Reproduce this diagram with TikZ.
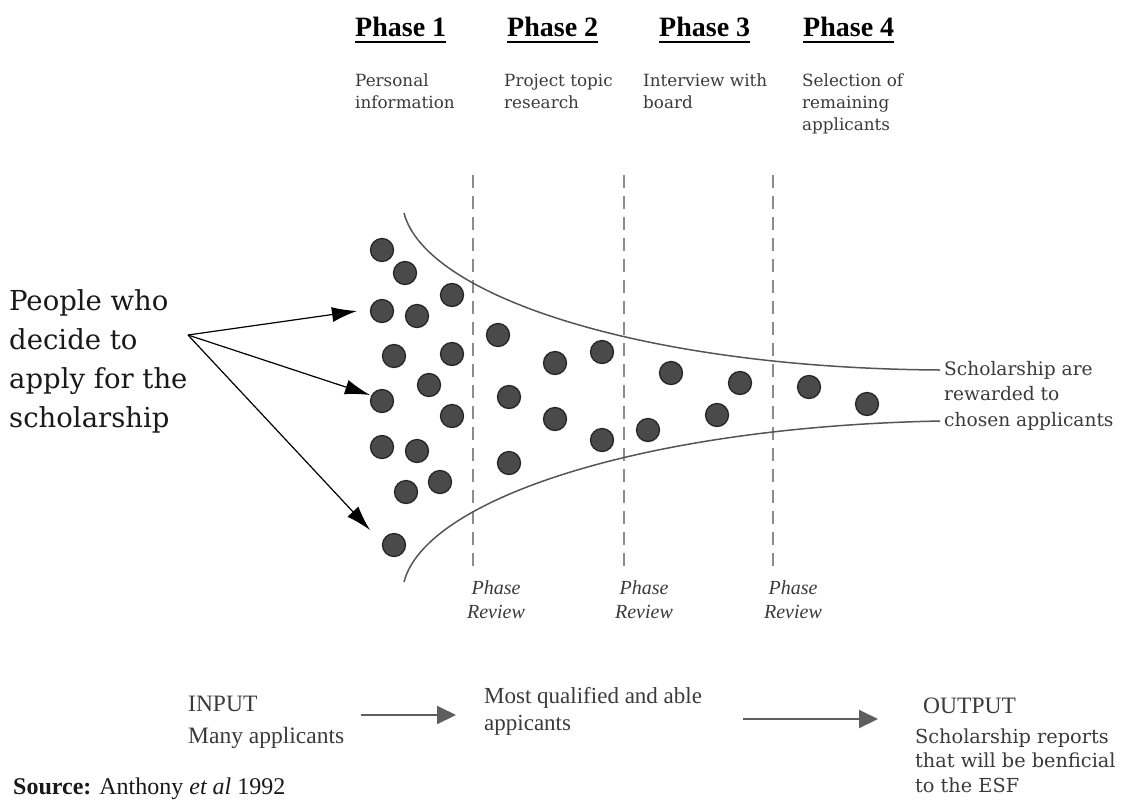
\documentclass[tikz,border=0pt]{standalone}
\usepackage{fontspec}
\usetikzlibrary{arrows.meta}
\newfontfamily\dvs{DejaVu Serif}
\newfontfamily\lib{Liberation Serif}
\definecolor{dotfill}{HTML}{4A4A4A}
\definecolor{dotline}{HTML}{262626}
\definecolor{txtgray}{HTML}{3A3A3A}
\definecolor{curvegray}{HTML}{555555}
\definecolor{dashgray}{HTML}{8C8C8C}
\definecolor{arrgray}{HTML}{5E5E5E}
\tikzset{
  dot/.style={circle, fill=dotfill, draw=dotline, line width=1.3pt, minimum size=23pt, inner sep=0pt},
  hdr/.style={inner sep=0pt, anchor=base west, font={\lib\bfseries\fontsize{28}{30}\selectfont}},
  sub/.style={inner sep=0pt, anchor=base west, align=left, text=txtgray, font={\dvs\fontsize{16.8}{22}\selectfont}},
  review/.style={inner sep=0pt, anchor=base, align=center, text=txtgray, font={\lib\itshape\fontsize{20}{24}\selectfont}},
  bottomtxt/.style={inner sep=0pt, anchor=base west, align=left, text=txtgray, font={\lib\fontsize{23.5}{32}\selectfont}},
  funnel/.style={draw=curvegray, line width=1.5pt},
  phaseline/.style={draw=dashgray, line width=1.5pt, dash pattern=on 13pt off 8pt},
  pointer/.style={draw=black, line width=1.2pt, -{Latex[length=25pt, width=15pt]}},
  flow/.style={draw=arrgray, line width=2pt, -{Triangle[length=19pt, width=18pt]}}
}
\begin{document}
\begin{tikzpicture}[x=1pt, y=-1pt]
\useasboundingbox (0,0) rectangle (1121,801);

% headers
\foreach \n/\x/\t in {1/355/Phase 1, 2/507/Phase 2, 3/659/Phase 3, 4/803/Phase 4}{
  \node[hdr] (h\n) at (\x,36) {\t};
  \draw[line width=2.4pt] ([yshift=-6pt]h\n.base west) -- ([yshift=-6pt]h\n.base east);
}
% multi-line nodes are placed by the baseline of their last line
\node[sub] (s1) at (355,108) {Personal\\information};
\node[sub] (s2) at (504,108) {Project topic\\research};
\node[sub] (s3) at (643,108) {Interview with\\board};
\node[sub] (s4) at (802,130) {Selection of\\remaining\\applicants};

% phase review lines
\foreach \n/\x in {1/473, 2/624, 3/773}{
  \coordinate (la\n) at (\x,175);
  \coordinate (lb\n) at (\x,567);
  \draw[phaseline] (la\n) -- (lb\n);
}
\node[review] (r1) at (496,618) {Phase\\Review};
\node[review] (r2) at (644,618) {Phase\\Review};
\node[review] (r3) at (793,618) {Phase\\Review};

% funnel
\coordinate (ft0) at (404,213);
\coordinate (ft1) at (940,370);
\coordinate (fb0) at (404,582);
\coordinate (fb1) at (940,421);
\draw[funnel] (ft0) .. controls (425,295) and (640,368) .. (ft1);
\draw[funnel] (fb0) .. controls (425,500) and (640,427) .. (fb1);

% dots
\foreach \x/\y [count=\i] in {382/250, 405/273, 452/295, 382/311, 417/316, 394/356, 452/354, 429/385, 382/401, 452/416, 382/447, 417/451, 406/492, 440/482, 394/545, 498/335, 509/397, 509/463, 555/363, 555/419, 602/352, 602/440, 671/373, 648/430, 740/383, 717/415, 809/387, 867/404}{
  \node[dot] (d\i) at (\x,\y) {};
}

% left text and pointers
\node[inner sep=0pt, anchor=base west, align=left, text=black!90, font={\dvs\fontsize{27.5}{39}\selectfont}] (people) at (9,427) {People who\\decide to\\apply for the\\scholarship};
\coordinate (o) at (188,335);
\coordinate (t1) at (357,311);
\coordinate (t2) at (370,395);
\coordinate (t3) at (370,530);
\draw[pointer] (o) -- (t1);
\draw[pointer] (o) -- (t2);
\draw[pointer] (o) -- (t3);

% right text
\node[inner sep=0pt, anchor=base west, align=left, text=txtgray, font={\dvs\fontsize{18.6}{25.5}\selectfont}] (reward) at (944,426) {Scholarship are\\rewarded to\\chosen applicants};

% bottom flow
\node[bottomtxt] (input) at (188,743) {INPUT\\Many applicants};
\node[bottomtxt, font={\lib\fontsize{23}{27}\selectfont}] (most) at (484,730) {Most qualified and able\\appicants};
\node[bottomtxt] (outp) at (923,713) {OUTPUT};
\node[inner sep=0pt, anchor=base west, align=left, text=txtgray, font={\dvs\fontsize{19.3}{24.5}\selectfont}] (outtxt) at (915,792) {Scholarship reports\\that will be benficial\\to the ESF};
\coordinate (a1s) at (361,715);
\coordinate (a1e) at (456,715);
\coordinate (a2s) at (743,719);
\coordinate (a2e) at (878,719);
\draw[flow] (a1s) -- (a1e);
\draw[flow] (a2s) -- (a2e);

% source
\node[inner sep=0pt, anchor=base west, font={\lib\fontsize{24}{28}\selectfont}, text=black!90] (src) at (13,794) {\textbf{Source:} Anthony \textit{et al} 1992};
\end{tikzpicture}
\end{document}
